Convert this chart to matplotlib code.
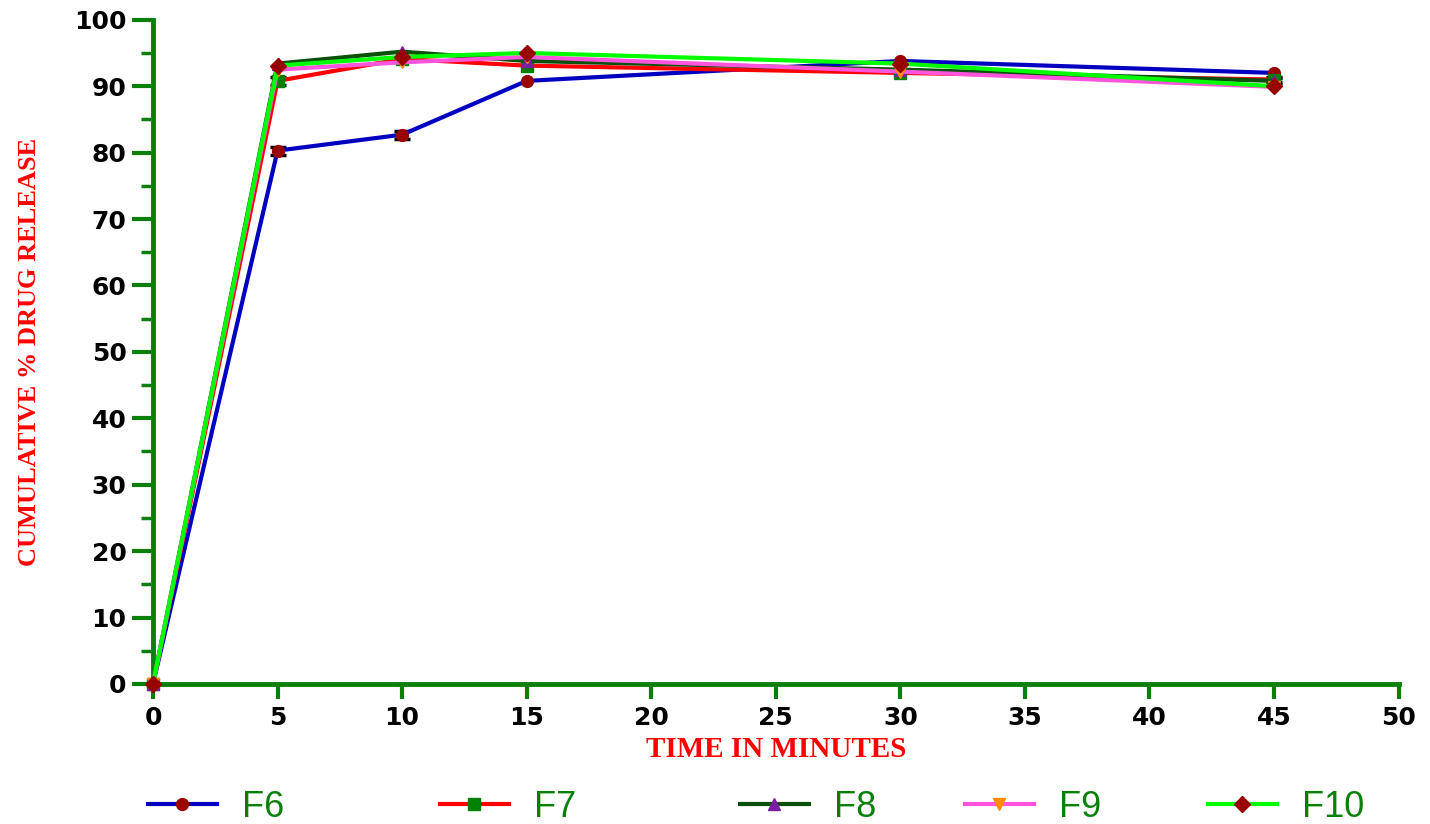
import matplotlib
matplotlib.use("Agg")
import matplotlib.pyplot as plt
from matplotlib.ticker import MultipleLocator

# Dissolution time points (minutes)
time_min = [0, 5, 10, 15, 30, 45]

# Cumulative % drug release for each formulation
f6 = [0, 80.3, 82.7, 90.8, 93.8, 92.0]
f7 = [0, 90.8, 94.1, 93.1, 92.0, 91.0]
f8 = [0, 93.4, 95.2, 93.8, 92.5, 90.8]
f9 = [0, 92.5, 93.6, 94.4, 92.2, 89.9]
f10 = [0, 93.1, 94.4, 95.0, 93.4, 90.0]

# Standard deviations (error bars); zero means no visible bar
f6_sd = [0, 0.6, 0.6, 0, 0, 0]
f7_sd = [0, 0.6, 0, 0, 0, 0.4]
f8_sd = [0, 0, 0, 0, 0, 0.4]
f9_sd = [0, 0, 0, 0, 0, 0]
f10_sd = [0, 0, 0, 0, 0, 0]

labels = ["F6", "F7", "F8", "F9", "F10"]

series = [
    (f6, f6_sd, "#0000C0", "o", "#990000"),
    (f7, f7_sd, "#FF0000", "s", "#008000"),
    (f8, f8_sd, "#0A4F0A", "^", "#7B1FA2"),
    (f9, f9_sd, "#FF55DD", "v", "#FF8C00"),
    (f10, f10_sd, "#00FF00", "D", "#990000"),
]

# Left edge (figure fraction) of each legend entry along the bottom row
legend_x = [0.1035, 0.3077, 0.5175, 0.6748, 0.8448]

fig = plt.figure(figsize=(14.30, 8.24), dpi=100)
ax = fig.add_axes([0.107, 0.170, 0.871, 0.806])

handles = []
for (vals, sd, lc, mk, mc), lab in zip(series, labels):
    ex = [t for t, s in zip(time_min, sd) if s > 0]
    ey = [v for v, s in zip(vals, sd) if s > 0]
    es = [s for s in sd if s > 0]
    if ex:
        ax.errorbar(ex, ey, yerr=es, fmt="none", ecolor="black",
                    elinewidth=1.5, capsize=6, capthick=2.5, zorder=2)
    h, = ax.plot(time_min, vals, color=lc, lw=3, marker=mk, ms=8.5,
                 markerfacecolor=mc, markeredgecolor=mc, label=lab,
                 zorder=3, clip_on=False)
    handles.append(h)

ax.set_xlim(0, 50)
ax.set_ylim(0, 100)
ax.xaxis.set_major_locator(MultipleLocator(5))
ax.yaxis.set_major_locator(MultipleLocator(10))
ax.yaxis.set_minor_locator(MultipleLocator(5))

green = "#0A7F0A"
for side in ("top", "right"):
    ax.spines[side].set_visible(False)
for side in ("left", "bottom"):
    ax.spines[side].set_color(green)
    ax.spines[side].set_linewidth(3.5)

ax.tick_params(axis="y", which="major", direction="out", color=green,
               width=3, length=15, labelsize=18, pad=4)
ax.tick_params(axis="x", which="major", direction="out", color=green,
               width=3, length=11, labelsize=18, pad=5)
ax.tick_params(axis="y", which="minor", direction="out", color=green,
               width=2.5, length=9)
for t in ax.get_xticklabels() + ax.get_yticklabels():
    t.set_fontweight("heavy")
    t.set_fontfamily("DejaVu Sans")
    t.set_color("black")

ax.set_xlabel("TIME IN MINUTES", color="#FF0000", fontsize=21,
              fontweight="bold", fontfamily="Liberation Serif", labelpad=4)
ax.set_ylabel("CUMULATIVE % DRUG RELEASE", color="#FF0000", fontsize=19,
              fontweight="bold", fontfamily="Liberation Serif", labelpad=24)

for h, lab, x in zip(handles, labels, legend_x):
    leg = fig.legend(handles=[h], labels=[lab], loc="center left",
                     bbox_to_anchor=(x, 0.020), frameon=False,
                     handlelength=1.9, handletextpad=0.7,
                     borderpad=0.0, borderaxespad=0.0,
                     prop={"family": "Liberation Sans", "size": 26})
    for t in leg.get_texts():
        t.set_color(green)

fig.savefig("out.png", dpi=100)
